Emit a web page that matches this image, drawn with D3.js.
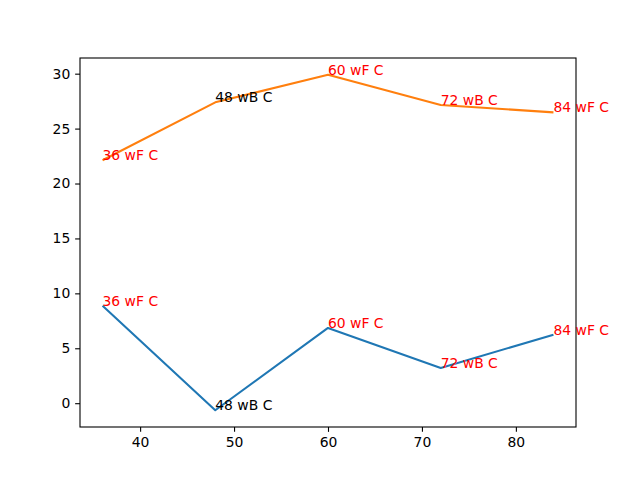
<!DOCTYPE html>
<html>
<head>
<meta charset="utf-8">
<script src="https://cdn.jsdelivr.net/npm/d3@7"></script>
<style>
  body { margin: 0; background: #fff; }
  text { font-family: "DejaVu Sans", sans-serif; }
</style>
</head>
<body>
<script>
const xValues = [36, 48, 60, 72, 84];
const blueValues = [8.88, -0.64, 6.85, 3.21, 6.24];
const orangeValues = [22.12, 27.39, 29.9, 27.15, 26.48];
const blueLabels = ["36 wF C", "48 wB C", "60 wF C", "72 wB C", "84 wF C"];
const orangeLabels = ["36 wF C", "48 wB C", "60 wF C", "72 wB C", "84 wF C"];
const labelColors = ["red", "black", "red", "red", "red"];
const orangeLabelColors = ["red", "black", "red", "red", "red"];
const xTicks = [40, 50, 60, 70, 80];
const yTicks = [0, 5, 10, 15, 20, 25, 30];

const width = 640;
const height = 480;
const margin = { top: 58, right: 64, bottom: 53, left: 80 };

const svg = d3
  .select("body")
  .append("svg")
  .attr("width", width)
  .attr("height", height);

// matplotlib style 5% padding on data range
const xPad = (d3.max(xValues) - d3.min(xValues)) * 0.05;
const allY = blueValues.concat(orangeValues);
const yPad = (d3.max(allY) - d3.min(allY)) * 0.05;

const x = d3
  .scaleLinear()
  .domain([d3.min(xValues) - xPad, d3.max(xValues) + xPad])
  .range([margin.left, width - margin.right]);

const y = d3
  .scaleLinear()
  .domain([d3.min(allY) - yPad, d3.max(allY) + yPad])
  .range([height - margin.bottom, margin.top]);

const xAxis = svg
  .append("g")
  .attr("transform", `translate(0,${height - margin.bottom})`)
  .call(d3.axisBottom(x).tickValues(xTicks).tickSize(4.86).tickPadding(4.86).tickFormat(d3.format("d")));

const yAxis = svg
  .append("g")
  .attr("transform", `translate(${margin.left},0)`)
  .call(d3.axisLeft(y).tickValues(yTicks).tickSize(4.86).tickPadding(4.86).tickFormat(d3.format("d")));

[xAxis, yAxis].forEach((a) => {
  a.select(".domain").remove();
  a.selectAll("text")
    .attr("font-family", "DejaVu Sans, sans-serif")
    .attr("font-size", 13.9)
    .attr("fill", "#000");
  a.selectAll("line").attr("stroke", "#000").attr("stroke-width", 1.1);
});

// frame
svg
  .append("rect")
  .attr("x", margin.left)
  .attr("y", margin.top)
  .attr("width", width - margin.left - margin.right)
  .attr("height", height - margin.top - margin.bottom)
  .attr("fill", "none")
  .attr("stroke", "#000")
  .attr("stroke-width", 1.1);

const line = d3
  .line()
  .x((d) => x(d[0]))
  .y((d) => y(d[1]));

const series = [
  { values: blueValues, color: "#1f77b4", labels: blueLabels, colors: labelColors },
  { values: orangeValues, color: "#ff7f0e", labels: orangeLabels, colors: orangeLabelColors },
];

series.forEach((s) => {
  const pts = xValues.map((v, i) => [v, s.values[i]]);
  svg
    .append("path")
    .datum(pts)
    .attr("fill", "none")
    .attr("stroke", s.color)
    .attr("stroke-width", 2.08)
    .attr("stroke-linejoin", "round")
    .attr("d", line);

  svg
    .append("g")
    .selectAll("text")
    .data(pts)
    .join("text")
    .attr("x", (d) => x(d[0]))
    .attr("y", (d) => y(d[1]))
    .attr("font-size", 13.9)
    .attr("fill", (d, i) => s.colors[i])
    .text((d, i) => s.labels[i]);
});
</script>
</body>
</html>
